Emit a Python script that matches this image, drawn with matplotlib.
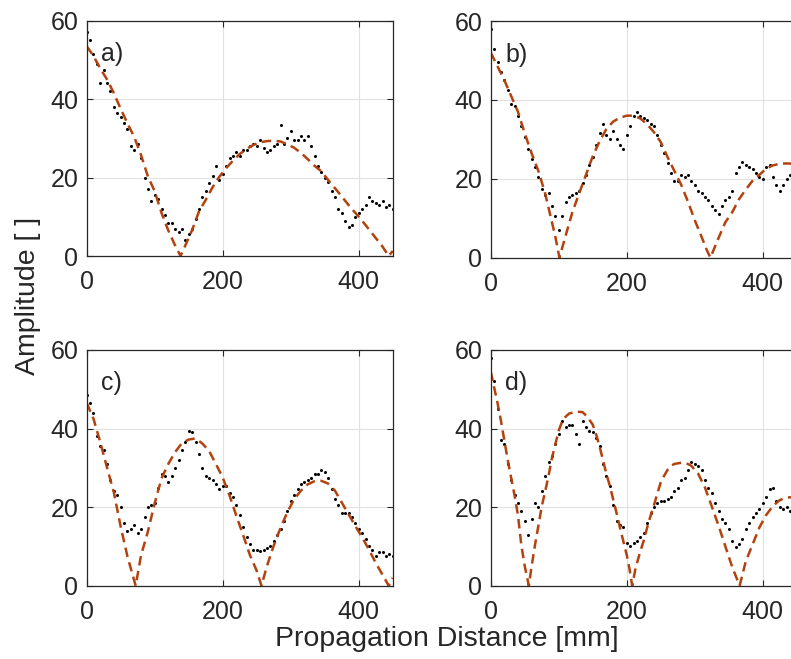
import numpy as np
import matplotlib
matplotlib.use("Agg")
import matplotlib.pyplot as plt

# === DATA ===
x_meas = np.arange(0, 451, 5)

meas_a = [57, 55, 51.5, 49, 44, 47.5, 44, 42, 38, 36.5, 35.5, 34, 32.5, 28, 27, 28.5, 25, 20, 17, 14,
          15.5, 14.5, 12, 10.5, 8.5, 8.5, 7, 6, 7, 4, 5.5, 7, 9.5, 12, 15, 16.5, 18.5, 20.5, 23, 19.5,
          21, 23, 25, 25.5, 26.5, 25.5, 27, 27, 28, 28.5, 28, 29.5, 27.5, 26.5, 27, 28, 28.5, 33.5, 28.5, 30,
          32, 29.5, 29.5, 30.5, 29.5, 30.5, 28, 25.5, 23, 21.5, 20, 19, 16.5, 15, 12, 11, 9, 7.5, 8, 10,
          11, 12, 13, 15, 14, 13.5, 13, 14, 12.5, 13, 12]
meas_b = [58, 53, 49.5, 47, 45, 42.5, 39, 38.5, 36, 33.5, 30.5, 27.5, 25, 23, 20.5, 17.5, 16, 16.3, 13, 10.5,
          7, 10.5, 14, 15.5, 16, 16.3, 17, 19, 21, 23.5, 25.5, 28.5, 31.5, 34, 31, 30, 32, 30, 28.5, 27.5,
          31, 33.5, 36, 37, 36, 35.5, 35, 34, 33.5, 31, 28.5, 26.5, 24, 21.5, 19.5, 19.5, 21, 20.5, 21, 19.5,
          18.5, 17, 16.5, 15.5, 14.5, 13, 12, 11, 13, 14.5, 15.5, 17, 21.5, 23, 24.3, 23.5, 23, 22.5, 21.5, 20.5,
          20, 23, 23.5, 20.5, 18.5, 17, 18.5, 20, 21, 22, 22.5]
meas_c = [48.5, 46.5, 44, 38, 35.5, 34.5, 31, 27, 24, 23, 20, 16, 14, 14.5, 15.5, 13.5, 14.5, 17.5, 20, 20.5,
          21, 25, 28.5, 28, 26.5, 28, 30, 32, 34.5, 36.5, 39.5, 39, 36.5, 33.5, 30, 28, 27.5, 27, 26, 24.5,
          25.5, 25.5, 23.5, 22.5, 20.5, 18, 15, 12.5, 10.5, 9, 9, 8.8, 9, 9.5, 10, 11.5, 13, 14.5, 16.5, 19,
          21.5, 23, 24.5, 26, 26.5, 27, 27.5, 28.5, 28.5, 29.5, 29, 27.5, 24.5, 22, 20.5, 18.5, 18.5, 18.5, 17.5, 16,
          14.5, 13.5, 12, 10, 9, 7.5, 8.5, 8.5, 7.5, 8, 7.5]
meas_d = [58, 52, 45, 37, 36, 31, 27, 23, 21, 19, 16.5, 13, 17, 21, 20, 24, 28, 31.5, 33, 36,
          38.5, 42, 40.5, 41, 41, 38.5, 36, 42, 40.5, 39.5, 39, 37.5, 35.5, 31, 28, 25.5, 20.5, 16.5, 15.5, 15,
          11, 10, 11, 11.5, 12.5, 13.5, 16, 18.5, 20, 21, 21.5, 21.5, 22, 22.5, 24, 25, 27, 27.5, 29.5, 31.5,
          31, 30.5, 29.5, 27, 25, 23.5, 21, 19, 17, 16, 14.5, 11.5, 9.8, 10.5, 11.8, 14.5, 16, 17.5, 18.5, 19.5,
          21, 22.5, 24.5, 25, 21.5, 20, 19.5, 20, 19, 18.5, 18]

fit_a_x = [0, 10, 20, 30, 40, 50, 60, 70, 80, 90, 100, 110, 120, 130, 138, 145, 155, 165, 175, 185, 195, 205,
           215, 225, 235, 245, 255, 265, 275, 285, 295, 305, 315, 325, 335, 345, 355, 365, 375, 385, 395, 405,
           415, 425, 435, 444, 450]
fit_a_y = [53.5, 51, 47.8, 45, 41.5, 37.5, 33.8, 30.3, 25.7, 20.3, 16.5, 11, 6.5, 2.7, 0, 2.7, 6.6, 11.3, 14.3,
           17.5, 20.2, 22.4, 24.3, 26, 27.3, 28.3, 29, 29.3, 29.4, 29.2, 28.5, 27.6, 26.3, 24.7, 23, 21.6, 19.4,
           17.3, 15.2, 13, 11, 9, 6.8, 4.6, 2.4, 0, 1.3]

fit_b_x = [0, 10, 20, 30, 40, 50, 60, 70, 80, 90, 95, 101, 110, 120, 130, 140, 150, 160, 170, 180, 190, 200,
           210, 220, 230, 240, 250, 260, 270, 280, 290, 300, 310, 318, 323, 335, 345, 355, 365, 375, 385, 395,
           405, 415, 425, 435, 445, 450]
fit_b_y = [52, 48.5, 45, 41, 37, 31.5, 26.5, 22, 16.3, 9, 5.3, 0, 5.5, 11.5, 16.3, 21, 25.7, 29.5, 32.6, 34.5,
           35.5, 36, 36, 35.3, 33.8, 31.8, 29.3, 25.5, 22, 18.5, 14.2, 9.5, 5.3, 1.8, 0, 5, 9, 11.5, 14.8, 17.3,
           19.5, 21, 22.6, 23.4, 23.8, 23.9, 23.8, 23.6]

fit_c_x = [0, 10, 20, 30, 40, 50, 60, 72, 80, 90, 100, 110, 120, 130, 140, 150, 160, 170, 180, 190, 200, 210,
           220, 230, 240, 250, 257, 265, 275, 285, 295, 305, 315, 325, 335, 345, 355, 365, 375, 385, 395, 405,
           415, 425, 435, 444, 450]
fit_c_y = [46.5, 42.5, 36.5, 30, 23.7, 15, 7.4, 0, 7.8, 13.8, 21, 27.3, 31, 34, 36.3, 37.2, 37.5, 36.2, 34.3,
           31, 27.5, 23, 17.8, 12.9, 7.8, 3.8, 0, 5, 10.2, 14.7, 18.7, 22, 24.2, 25.8, 26.6, 26.7, 26, 24.2,
           21.2, 18.2, 15.2, 12.3, 9.2, 5.8, 2.8, 0, 2]

fit_d_x = [0, 5, 10, 15, 20, 25, 30, 35, 40, 45, 50, 56, 60, 65, 70, 75, 80, 85, 90, 95, 100, 105, 110, 115,
           125, 135, 142, 150, 155, 160, 165, 170, 175, 180, 185, 190, 195, 200, 204, 208, 213, 220, 225, 230,
           235, 240, 245, 250, 255, 260, 265, 270, 280, 290, 295, 305, 315, 325, 335, 345, 355, 366, 375, 385,
           395, 405, 415, 425, 435, 445, 450]
fit_d_y = [54.5, 50.5, 46.5, 42, 37, 32, 27.5, 23, 18, 10.3, 5, 0, 4.8, 10.3, 15.2, 20.2, 24, 28, 32.5, 36,
           39.5, 41.8, 43, 43.8, 44.3, 44.2, 43, 41, 38.5, 35.5, 32, 28.5, 25.5, 22, 18.5, 14.8, 11.3, 7.8, 4.3,
           0, 4.5, 8.8, 11.5, 14.8, 17.8, 20.5, 23.5, 26.3, 28, 29.5, 30.5, 31, 31.3, 31, 30.5, 28.5, 25, 20.2,
           15.3, 10, 4.8, 0, 6.2, 10.5, 14.8, 18, 20.3, 21.8, 22.4, 22.6, 22.5]

panels = [
    ("a)", meas_a, fit_a_x, fit_a_y),
    ("b)", meas_b, fit_b_x, fit_b_y),
    ("c)", meas_c, fit_c_x, fit_c_y),
    ("d)", meas_d, fit_d_x, fit_d_y),
]

# axes rectangles in figure fractions (right column runs off the figure edge like the original)
rects = [
    [0.1096, 0.6115, 0.3869, 0.3571],
    [0.6204, 0.6090, 0.3869, 0.3591],
    [0.1096, 0.1112, 0.3869, 0.3577],
    [0.6204, 0.1112, 0.3869, 0.3577],
]

plt.rcParams["font.family"] = ["Liberation Sans", "DejaVu Sans"]
TXT = "#262626"
FIT_COLOR = "#B4420E"

fig = plt.figure(figsize=(7.91, 6.59), dpi=100)

for (label, meas, fx, fy), rect in zip(panels, rects):
    ax = fig.add_axes(rect)
    ax.plot(x_meas, meas, linestyle="none", marker=".", markersize=2.4, color="black")
    ax.plot(fx, fy, color=FIT_COLOR, linewidth=1.8, dashes=(3.8, 2.2))
    ax.set_xlim(0, 450)
    ax.set_ylim(0, 60)
    ax.set_xticks([0, 200, 400])
    ax.set_yticks([0, 20, 40, 60])
    ax.grid(True, color="#e0e0e0", linewidth=0.8)
    ax.set_axisbelow(True)
    ax.tick_params(direction="in", top=True, right=True, length=4, width=0.8,
                   labelsize=18, colors=TXT)
    ax.tick_params(axis="x", pad=10)
    ax.tick_params(axis="y", pad=6)
    for sp in ax.spines.values():
        sp.set_color(TXT)
        sp.set_linewidth(0.9)
    ax.text(21, 49.7, label, fontsize=18, color=TXT, va="baseline", ha="left")

fig.text(0.036, 0.551, "Amplitude [ ]", rotation=90, ha="center", va="center",
         fontsize=20.5, color=TXT)
fig.text(0.565, 0.019, "Propagation Distance [mm]", ha="center", va="baseline",
         fontsize=20.5, color=TXT)

fig.savefig("out.png", dpi=100)
